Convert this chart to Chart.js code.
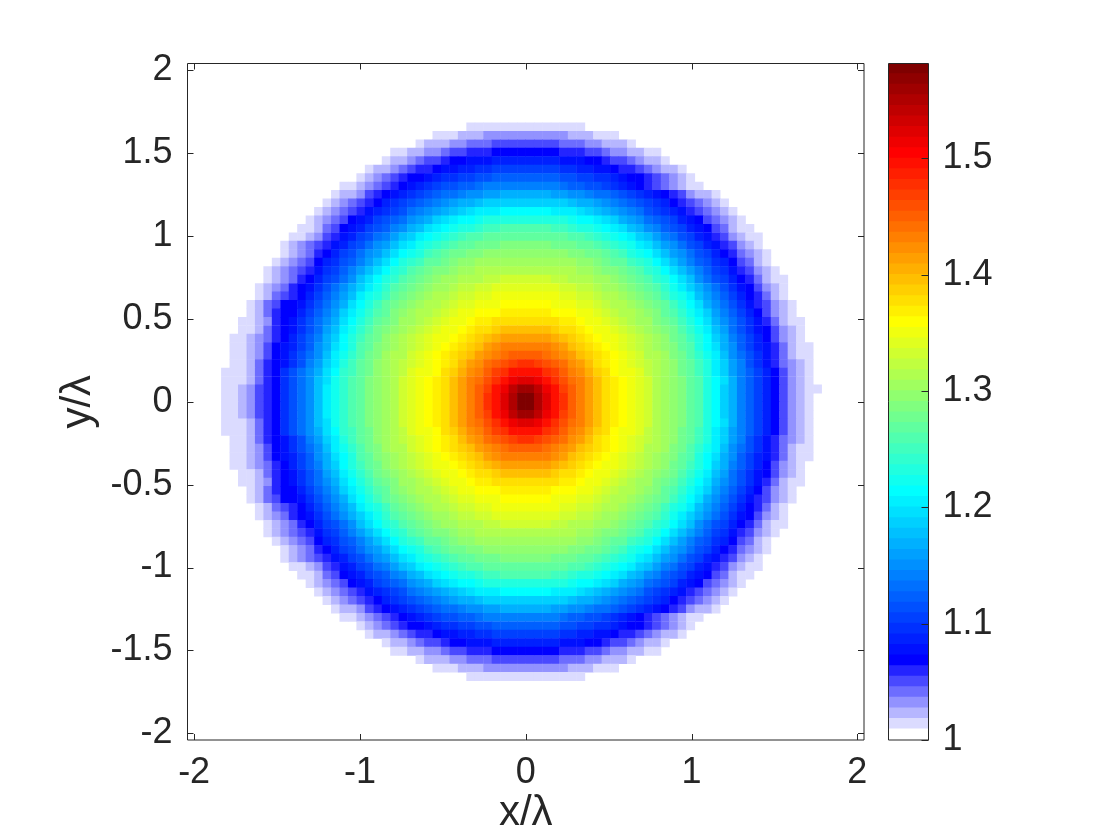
<!DOCTYPE html>
<html>
<head>
<meta charset="utf-8">
<title>Field map</title>
<script src="https://cdn.jsdelivr.net/npm/chart.js@4/dist/chart.umd.js"></script>
<style>
  html, body { margin: 0; padding: 0; background: #fff; overflow: hidden; }
  canvas { position: absolute; left: 0; top: 0; }
</style>
</head>
<body>
<canvas id="map" width="1120" height="840"></canvas>
<canvas id="bar" width="1120" height="840"></canvas>
<script>
/* ---------- data ---------- */
const xTicks = [-2, -1, 0, 1, 2];
const yTicks = [-2, -1.5, -1, -0.5, 0, 0.5, 1, 1.5, 2];
const barTicks = [1, 1.1, 1.2, 1.3, 1.4, 1.5];
const AXIS_LIMIT = 2.04;      // axes run a little past +-2
const GRID_SIZE = 80;         // 80 x 80 cells
const LEVEL_COUNT = 64;       // colour bands of the colorbar
const VALUE_MIN = 1;
const VALUE_MAX = 1.5815;

// one character per cell = colour band 0..63, white cells left out
const LEVEL_CHARS = '0123456789abcdefghijklmnopqrstuvwxyzABCDEFGHIJKLMNOPQRSTUVWXYZ+*';

// grid row of the first entry in mapRows, and first filled column of each row
const FIRST_ROW = 7;
const rowStart = [
  33, 29, 27, 24, 23, 21, 20, 18, 17, 16, 15, 14, 13, 12, 11, 11, 10, 9, 9, 8, 8, 7, 7, 6, 6, 5, 5, 5, 5, 4, 4, 4, 4,
  4, 4, 4, 4, 5, 5, 5, 5, 6, 6, 7, 7, 8, 8, 9, 9, 10, 11, 11, 12, 13, 14, 15, 16, 17, 18, 20, 21, 23, 24, 27, 29, 33,
];
const mapRows = [
  '11111111111111',
  '1112223333333333222111',
  '12223344455555555444332221',
  '11223345566677777777666554332211',
  '1223455677888999999998887765543221',
  '1223456678899aabbbbbbbbaa9988766543221',
  '1234567789aabbccddddddddccbbaa9877654321',
  '1123456789abccddefffffffffeddccba9876543211',
  '122356789abcdeefgghhiiiiiihhggfeedcba987653221',
  '12345679abcdefghiijkkkkkkkkkkjiihgfedcba97654321',
  '12345689abcefghijklmmmnnnnnnmmmlkjihgfecba98654321',
  '12345789bcdeghiklmnnopppppppppponnmlkihgedcb98754321',
  '11245789bcdfgijlmnoppqrrssssssrrqpponmljigfdcb98754211',
  '11235689bcefhjkmnopqrssttttttttttssrqponmkjhfecb98653211',
  '12345689bceghjlmopqrsttuuuvvvvvvuuuttsrqpomljhgecb9865321',
  '1234679bceghjlnoprstuuvvwwwwwwwwwwvvuutsrponljhgecb9764321',
  '1234579acdfhjlnpqrttuvwwxxxxxxxxxxxxwwvuttrqpnljhfdca975421',
  '1234568abdfhjlnpqstuvvwxxyyyyyyyyyyyyxxwvvutsqpnljhfdba865321',
  '1234679bcegjlnpqstuvwxxyyyzzAAAAAAzzyyyxxwvutsqpnljgecb9764211',
  '1234678acegikmoqstuvwxxyzzAABBBBBBBBAAzzyxxwvutsqomkigeca875321',
  '1245679bdfhjmoprtuvwxyyzAABBCCCCCCCCBBAAzyyxwvutrpomjhfdb976421',
  '1245778acegilnprtuvwxyyzABBCCCDDDDDDCCCBBAzyyxwvutrpnligeca865321',
  '1246779bdfhkmoqstvwxyyzABCCDDDEEEEEEDDDCCBAzyyxwvtsqomkhfdb975321',
  '1123678acegilnprtuvxxyzABCCDEEFFFFFFFFEEDCCBAzyxxvutrpnligeca864211',
  '1124678acehjmoqsuvwxyzABCCDEFFGHHHHHHGFFEDCCBAzyxwvusqomjheca875321',
  '11234679bdfiknprtuwxyzABCCDEFGHIJJJJJJIHGFEDCCBAzyxwutrpnkifdb975321',
  '11235789bdgilnpstvwxyzABCDEFGHJKLLLLLLKJHGFEDCBAzyxwvtspnligdb9864211',
  '1123578acegjmoqsuvxyyABCDEFGHJKLMNNNNMLKJHGFEDCBAyyxvusqomjgeca864211',
  '1124678acfhkmprtuwxyzABCDEFHJKMNOPQQPONMKJHFEDCBAzyxwutrpmkhfca864321',
  '1112467acegilnqrtuwxyzBCCDFGIKLNPQSSSSQPNLKIGFDCCBzyxwutrpmkhfdb975321',
  '1112467acegjloqstvwxyABCDEFHJLMOQSUVVUSQOMLJHFEDCBAyxwvtspnlifdb975321',
  '1123567acegjmoqstvwxyABCDEFHJLNPSUXZZXUSPNLJHFEDCBAyxwvtspnkifdb9753211',
  '1123567acegjmoqstvwxyABCDEFHJLNQSVY**YVSQNLJHFEDCBAyxwvtspnkifdb975321',
  '1123567acegjmoqstvwxyABCDEFHJLNQSVY**YVSQNLJHFEDCBAyxwvtspnkifdb975321',
  '1123567acegjmoqstvwxyABCDEFHJLNPSUXZZXUSPNLJHFEDCBAyxwvtspnkifdb975321',
  '1112467acegjloqstvwxyABCDEFHJLMOQSUVVUSQOMLJHFEDCBAyxwvtspnlifdb975321',
  '1112467acegilnqrtuwxyzBCCDFGIKLNPQSSSSQPNLKIGFDCCBzyxwutrpmkhfdb975321',
  '1124678acfhkmprtuwxyzABCDEFHJKMNOPQQPONMKJHFEDCBAzyxwutrpmkhfca864321',
  '1123578acegjmoqsuvxyyABCDEFGHJKLMNNNNMLKJHGFEDCBAyyxvusqomjgeca864211',
  '11235789bdgilnpstvwxyzABCDEFGHJKLLLLLLKJHGFEDCBAzyxwvtspnligdb9864211',
  '11234679bdfiknprtuwxyzABCCDEFGHIJJJJJJIHGFEDCCBAzyxwutrpnkifdb975321',
  '1124678acehjmoqsuvwxyzABCCDEFFGHHHHHHGFFEDCCBAzyxwvusqomjheca875321',
  '1123678acegilnprtuvxxyzABCCDEEFFFFFFFFEEDCCBAzyxxvutrpnligeca864211',
  '1246779bdfhkmoqstvwxyyzABCCDDDEEEEEEDDDCCBAzyyxwvtsqomkhfdb975321',
  '1245778acegilnprtuvwxyyzABBCCCDDDDDDCCCBBAzyyxwvutrpnligeca865321',
  '1245679bdfhjmoprtuvwxyyzAABBCCCCCCCCBBAAzyyxwvutrpomjhfdb976421',
  '1234678acegikmoqstuvwxxyzzAABBBBBBBBAAzzyxxwvutsqomkigeca875321',
  '1234679bcegjlnpqstuvwxxyyyzzAAAAAAzzyyyxxwvutsqpnljgecb9764211',
  '1234568abdfhjlnpqstuvvwxxyyyyyyyyyyyyxxwvvutsqpnljhfdba865321',
  '1234579acdfhjlnpqrttuvwwxxxxxxxxxxxxwwvuttrqpnljhfdca975421',
  '1234679bceghjlnoprstuuvvwwwwwwwwwwvvuutsrponljhgecb9764321',
  '12345689bceghjlmopqrsttuuuvvvvvvuuuttsrqpomljhgecb9865321',
  '11235689bcefhjkmnopqrssttttttttttssrqponmkjhfecb98653211',
  '11245789bcdfgijlmnoppqrrssssssrrqpponmljigfdcb98754211',
  '12345789bcdeghiklmnnopppppppppponnmlkihgedcb98754321',
  '12345689abcefghijklmmmnnnnnnmmmlkjihgfecba98654321',
  '12345679abcdefghiijkkkkkkkkkkjiihgfedcba97654321',
  '122356789abcdeefgghhiiiiiihhggfeedcba987653221',
  '1123456789abccddefffffffffeddccba9876543211',
  '1234567789aabbccddddddddccbbaa9877654321',
  '1223456678899aabbbbbbbbaa9988766543221',
  '1223455677888999999998887765543221',
  '11223345566677777777666554332211',
  '12223344455555555444332221',
  '1112223333333333222111',
  '11111111111111',
];

/* ---------- colours ---------- */
const INK = '#262626';
const FONT = 'Liberation Sans';

// white to blue over the first bands, then the usual jet ramp
function levelColor(level) {
  let r = 0, g = 0, b = 255;
  if (level < 7) {
    r = g = Math.round(255 * (1 - level / 7));
  } else if (level <= 23) {
    g = Math.min(255, (level - 7) * 16);
  } else if (level <= 39) {
    r = Math.min(255, (level - 23) * 16);
    g = 255;
    b = 255 - r;
  } else if (level <= 55) {
    r = 255;
    g = Math.max(0, 255 - (level - 39) * 16);
    b = 0;
  } else {
    r = 255 - (level - 55) * 16;
    g = 0;
    b = 0;
  }
  return `rgb(${r},${g},${b})`;
}

/* ---------- cells ---------- */
const cellStep = (2 * AXIS_LIMIT) / GRID_SIZE;
const cells = [];
mapRows.forEach((row, r) => {
  const j = FIRST_ROW + r;
  [...row].forEach((ch, k) => {
    const i = rowStart[r] + k;
    cells.push({
      x: (i - (GRID_SIZE - 1) / 2) * cellStep,
      y: ((GRID_SIZE - 1) / 2 - j) * cellStep,
      level: LEVEL_CHARS.indexOf(ch),
    });
  });
});

/* inward ticks and the box, matlab style */
const boxTicks = {
  id: 'boxTicks',
  afterDraw(chart, args, opts) {
    const { ctx, chartArea: a, scales } = chart;
    const len = opts.length;
    ctx.save();
    ctx.strokeStyle = INK;
    ctx.lineWidth = 1;
    ctx.beginPath();
    if (opts.full) {
      scales.x.ticks.forEach(t => {
        const px = Math.round(scales.x.getPixelForValue(t.value)) + 0.5;
        ctx.moveTo(px, a.bottom); ctx.lineTo(px, a.bottom - len);
        ctx.moveTo(px, a.top); ctx.lineTo(px, a.top + len);
      });
    }
    scales.y.ticks.forEach(t => {
      const py = Math.round(scales.y.getPixelForValue(t.value)) + 0.5;
      ctx.moveTo(a.right, py); ctx.lineTo(a.right - len, py);
      if (opts.full) { ctx.moveTo(a.left, py); ctx.lineTo(a.left + len, py); }
    });
    ctx.rect(a.left, a.top, a.right - a.left, a.bottom - a.top);
    ctx.stroke();
    ctx.restore();
  }
};

const tickFont = { family: FONT, size: 36 };
const titleFont = { family: FONT, size: 42, lineHeight: 1 };

/* ---------- main map ---------- */
new Chart(document.getElementById('map'), {
  type: 'scatter',
  data: {
    datasets: [{
      data: cells,
      pointStyle: 'rect',
      pointRadius: 6.3,
      pointHoverRadius: 6.3,
      pointBorderWidth: 0,
      pointBackgroundColor: cells.map(c => levelColor(c.level)),
    }]
  },
  options: {
    responsive: false,
    animation: false,
    events: [],
    layout: { padding: { left: 0, top: 63.5, right: 256, bottom: 0 } },
    plugins: { legend: { display: false }, tooltip: { enabled: false }, boxTicks: { length: 6, full: true } },
    scales: {
      x: {
        type: 'linear',
        min: -AXIS_LIMIT,
        max: AXIS_LIMIT,
        afterBuildTicks: s => { s.ticks = xTicks.map(v => ({ value: v })); },
        afterFit: s => { s.height = 100; },
        grid: { display: false },
        border: { display: false },
        ticks: { font: tickFont, color: INK, padding: 3, maxRotation: 0, autoSkip: false, callback: v => String(v) },
        title: { display: true, text: 'x/λ', font: titleFont, color: INK, padding: { top: 0, bottom: 6 } },
      },
      y: {
        type: 'linear',
        min: -AXIS_LIMIT,
        max: AXIS_LIMIT,
        afterBuildTicks: s => { s.ticks = yTicks.map(v => ({ value: v })); },
        afterFit: s => { s.width = 187.5; },
        grid: { display: false },
        border: { display: false },
        ticks: { font: tickFont, color: INK, padding: 7, autoSkip: false, callback: v => String(v) },
        title: { display: true, text: 'y/λ', font: titleFont, color: INK, padding: { top: 57, bottom: 0 } },
      },
    },
  },
  plugins: [boxTicks],
});

/* ---------- colorbar ---------- */
const bandStep = (VALUE_MAX - VALUE_MIN) / LEVEL_COUNT;
const bandDatasets = [];
for (let level = 0; level < LEVEL_COUNT; level++) {
  const lo = VALUE_MIN + level * bandStep;
  bandDatasets.push({
    data: [[lo, Math.min(VALUE_MAX, lo + bandStep * 1.05)]],
    backgroundColor: levelColor(level),
    borderWidth: 0,
    barPercentage: 1,
    categoryPercentage: 1,
    grouped: false,
  });
}

new Chart(document.getElementById('bar'), {
  type: 'bar',
  data: { labels: [''], datasets: bandDatasets },
  options: {
    responsive: false,
    animation: false,
    events: [],
    layout: { padding: { left: 888.5, top: 63.5, right: 0, bottom: 100 } },
    plugins: { legend: { display: false }, tooltip: { enabled: false }, boxTicks: { length: 7, full: false } },
    scales: {
      x: { display: false },
      y: {
        type: 'linear',
        position: 'right',
        min: VALUE_MIN,
        max: VALUE_MAX,
        afterBuildTicks: s => { s.ticks = barTicks.map(v => ({ value: v })); },
        afterFit: s => { s.width = 191.5; },
        grid: { display: false },
        border: { display: false },
        ticks: { font: tickFont, color: INK, padding: 6, autoSkip: false, callback: v => String(v) },
      },
    },
  },
  plugins: [boxTicks],
});
</script>
</body>
</html>
